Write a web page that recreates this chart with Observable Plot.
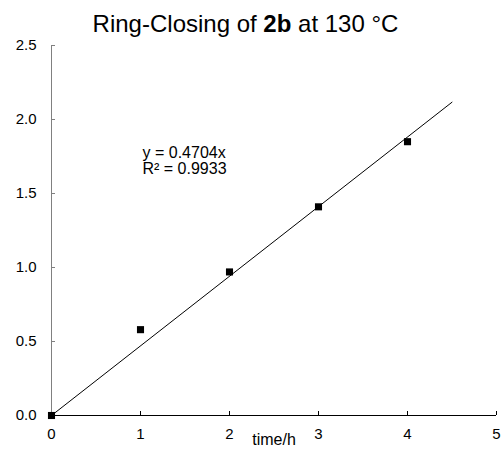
<!DOCTYPE html>
<html>
<head>
<meta charset="utf-8">
<script src="https://cdn.jsdelivr.net/npm/d3@7"></script>
<script src="https://cdn.jsdelivr.net/npm/@observablehq/plot@0.6"></script>
<style>
  html, body { margin: 0; padding: 0; background: white; }
  #wrap { width: 501px; font-family: "Liberation Sans", Arial, sans-serif; }
  #title { height: 24px; padding-top: 12px; line-height: 24px; font-size: 24px; text-align: center; padding-right: 10px; color: #000; white-space: nowrap; }
</style>
</head>
<body>
<div id="wrap">
  <div id="title">Ring-Closing of <b>2b</b> at 130 °C</div>
  <div id="chart"></div>
</div>
<script>
// Data
const timeH = [0, 1, 2, 3, 4];
const conversion = [0, 0.58, 0.97, 1.41, 1.85];
const slope = 0.4704;
const rSquared = 0.9933;
const trendX = [0, 4.5];
const xTicks = [0, 1, 2, 3, 4, 5];
const yTicks = [0, 0.5, 1.0, 1.5, 2.0, 2.5];
const xLabel = "time/h";
const equationText = `y = ${slope}x\nR² = ${rSquared}`;

const points = timeH.map((t, i) => ({t, v: conversion[i]}));
const trend = trendX.map(t => ({t, v: slope * t}));

const chart = Plot.plot({
  width: 501,
  height: 416,
  marginLeft: 51,
  marginRight: 5,
  marginTop: 9,
  marginBottom: 37,
  style: {fontFamily: '"Liberation Sans", Arial, sans-serif', fontSize: "15px", background: "white", color: "black", overflow: "visible"},
  x: {domain: [0, 5]},
  y: {domain: [0, 2.5]},
  marks: [
    Plot.axisY({ticks: yTicks, tickFormat: d3.format(".1f"), tickSize: -4, tickPadding: 19, stroke: "#808080", label: null, fill: "black"}),
    Plot.axisX({ticks: xTicks, tickFormat: d3.format("d"), tickSize: -4, tickPadding: 17, stroke: "black", label: null, fill: "black"}),
    Plot.ruleX([0], {stroke: "#808080"}),
    Plot.ruleY([0], {stroke: "black"}),
    Plot.line(trend, {x: "t", y: "v", stroke: "black", strokeWidth: 1}),
    Plot.dot(points, {x: "t", y: "v", symbol: "square", r: 4, fill: "black", stroke: "none"}),
    Plot.text([equationText], {frameAnchor: "top-left", textAnchor: "start", lineAnchor: "top", dx: 91, dy: 101, lineHeight: 1.0, fontSize: 16, fill: "black"}),
    Plot.text([xLabel], {frameAnchor: "bottom", lineAnchor: "bottom", dy: 29, fontSize: 16, fill: "black"})
  ]
});
document.getElementById("chart").appendChild(chart);
</script>
</body>
</html>
